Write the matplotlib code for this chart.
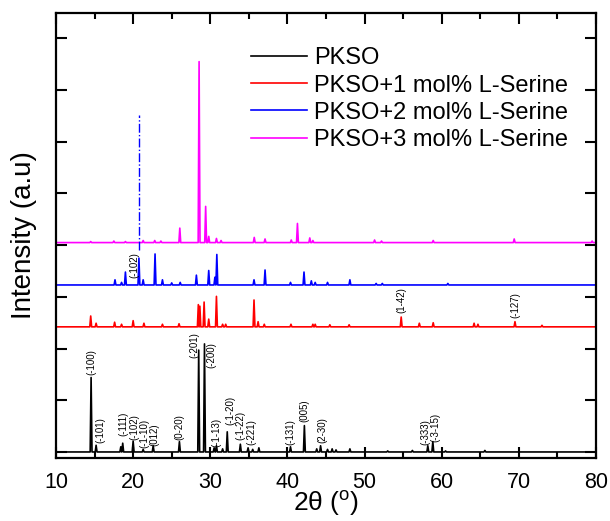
import matplotlib
matplotlib.use('Agg')
import matplotlib.pyplot as plt
import numpy as np

plt.rcParams['font.family'] = ['Liberation Sans', 'DejaVu Sans']
plt.rcParams['mathtext.fontset'] = 'custom'
plt.rcParams['mathtext.rm'] = 'Liberation Sans'
plt.rcParams['mathtext.it'] = 'Liberation Sans:italic'

# peak positions (2theta) and heights
pkso_pos = [14.55, 15.2, 18.4, 18.65, 20.0, 21.3, 22.6, 26.0, 28.5, 29.25, 30.5, 30.8,
            31.6, 32.2, 33.9, 34.9, 35.5, 36.3, 40.4, 42.2, 43.8, 44.3, 45.2, 45.8,
            46.3, 48.1, 53.0, 56.2, 58.2, 58.85, 60.5, 65.6]
pkso_h = [1.44, 0.13, 0.1, 0.17, 0.21, 0.05, 0.12, 0.2, 1.97, 2.09, 0.08, 0.12,
          0.06, 0.39, 0.15, 0.08, 0.05, 0.08, 0.1, 0.51, 0.06, 0.12, 0.05, 0.06,
          0.04, 0.06, 0.02, 0.03, 0.12, 0.2, 0.02, 0.03]

ser1_pos = [14.5, 15.2, 17.6, 18.5, 20.0, 21.4, 23.8, 25.95, 28.45, 28.65, 29.2, 29.8,
            30.8, 31.6, 32.0, 35.67, 36.2, 37.0, 40.46, 43.3, 43.6, 45.5, 48.0,
            54.75, 57.1, 58.9, 64.2, 64.7, 69.5, 73.0]
ser1_h = [0.21, 0.07, 0.09, 0.05, 0.12, 0.07, 0.05, 0.06, 0.43, 0.4, 0.48, 0.15,
          0.59, 0.05, 0.05, 0.52, 0.1, 0.05, 0.05, 0.05, 0.05, 0.04, 0.04,
          0.19, 0.07, 0.08, 0.07, 0.05, 0.1, 0.03]

ser2_pos = [17.65, 18.5, 19.0, 20.75, 21.3, 22.84, 23.8, 25.0, 26.1, 28.2, 29.8, 30.6,
            30.85, 35.67, 37.1, 40.4, 42.15, 43.1, 43.6, 45.2, 48.1, 51.5, 52.3, 60.8]
ser2_h = [0.1, 0.05, 0.25, 0.52, 0.1, 0.6, 0.1, 0.04, 0.05, 0.19, 0.28, 0.15,
          0.59, 0.1, 0.29, 0.05, 0.25, 0.08, 0.05, 0.05, 0.1, 0.03, 0.03, 0.03]

ser3_pos = [14.5, 17.5, 19.0, 21.3, 22.8, 23.6, 26.05, 28.55, 29.4, 29.8, 30.8, 31.4,
            35.7, 37.1, 40.5, 41.3, 42.9, 43.3, 51.3, 52.2, 58.9, 69.4, 79.5]
ser3_h = [0.02, 0.03, 0.02, 0.04, 0.04, 0.03, 0.28, 3.5, 0.7, 0.12, 0.08, 0.04,
          0.1, 0.07, 0.05, 0.37, 0.09, 0.04, 0.05, 0.03, 0.04, 0.07, 0.03]

offsets = [0.0, 2.42, 3.23, 4.05]
names = ['PKSO', 'PKSO+1 mol% L-Serine', 'PKSO+2 mol% L-Serine', 'PKSO+3 mol% L-Serine']
colors = ['black', 'red', 'blue', 'magenta']

# hkl labels: text, x, y of label bottom
pkso_labels = ['(-100)', '(-101)', '(-111)', '(-102)', '(-1-10)', '(012)', '(0-20)', '(-201)',
               '(-200)', '(-1-13)', '(-1-20)', '(-1-22)', '(-221)', '(-131)', '(005)',
               '(2-30)', '(-333)', '(-3-15)']
pkso_lab_x = [14.6, 15.8, 18.7, 20.1, 21.5, 22.8, 25.95, 28.0, 30.2, 30.8, 32.55, 33.94,
              35.36, 40.42, 42.19, 44.57, 57.83, 59.13]
pkso_lab_y = [1.49, 0.17, 0.31, 0.23, 0.08, 0.12, 0.23, 1.82, 1.62, 0.1, 0.52, 0.23,
              0.14, 0.14, 0.58, 0.17, 0.14, 0.19]
ser1_labels = ['(1-42)', '(-127)']
ser1_lab_x = [54.81, 69.5]
ser1_lab_y = [2.69, 2.59]
ser2_labels = ['(-102)']
ser2_lab_x = [20.1]
ser2_lab_y = [3.37]

guide_x = 20.75
guide_y = [3.9, 6.52]


def spikes(pos, h, base, hw=0.12):
    xs = [10.0]
    ys = [base]
    for p, v in sorted(zip(pos, h)):
        xs += [p - hw, p, p + hw]
        ys += [base, base + v, base]
    xs.append(80.0)
    ys.append(base)
    return xs, ys


fig = plt.figure(figsize=(6.1, 5.21), dpi=100)
ax = fig.add_axes([0.0918, 0.121, 0.8852, 0.854])

series = [(pkso_pos, pkso_h), (ser1_pos, ser1_h), (ser2_pos, ser2_h), (ser3_pos, ser3_h)]
for (pos, h), off, name, c in zip(series, offsets, names, colors):
    xs, ys = spikes(pos, h, off)
    ax.plot(xs, ys, color=c, lw=1.2, label=name)

ax.plot([guide_x, guide_x], guide_y, color='blue', lw=1.0, ls='-.')

for t, x, y in zip(pkso_labels, pkso_lab_x, pkso_lab_y):
    ax.text(x, y, t, rotation=90, ha='center', va='bottom', fontsize=7)
for t, x, y in zip(ser1_labels, ser1_lab_x, ser1_lab_y):
    ax.text(x, y, t, rotation=90, ha='center', va='bottom', fontsize=7)
for t, x, y in zip(ser2_labels, ser2_lab_x, ser2_lab_y):
    ax.text(x, y, t, rotation=90, ha='center', va='bottom', fontsize=7)

ax.set_xlim(10, 80)
ax.set_ylim(-0.116, 8.49)
ax.set_xticks(np.arange(10, 81, 10))
ax.set_xticks(np.arange(15, 80, 10), minor=True)
ax.set_yticks(np.arange(0, 9, 1))
ax.set_yticklabels([])
ax.tick_params(which='both', direction='in', top=True, right=True, width=1.5)
ax.tick_params(which='major', length=8, labelsize=15.5, pad=10)
ax.tick_params(which='minor', length=4)
for s in ax.spines.values():
    s.set_linewidth(1.6)

ax.set_xlabel(r'2θ ($^{\mathrm{o}}$)', fontsize=19, labelpad=-3)
ax.set_ylabel('Intensity (a.u)', fontsize=20, labelpad=4)

ax.legend(loc='upper left', bbox_to_anchor=(0.33, 0.96), frameon=False, fontsize=17,
          handlelength=2.4, handletextpad=0.3, labelspacing=0.22, borderpad=0.2)

fig.savefig('out.png', dpi=100)
